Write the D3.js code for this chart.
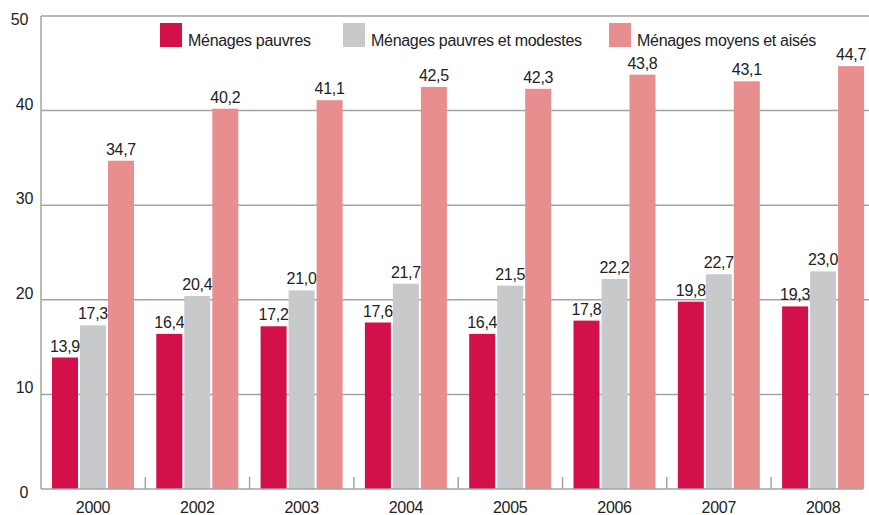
<!DOCTYPE html>
<html>
<head>
<meta charset="utf-8">
<script src="https://cdnjs.cloudflare.com/ajax/libs/d3/7.8.5/d3.min.js"></script>
<style>
  body { margin: 0; background: #fff; }
  svg text { font-family: "Liberation Sans", Arial, sans-serif; fill: #222; letter-spacing: -0.3px; }
</style>
</head>
<body>
<div id="chart"></div>
<script>
// data
var years   = ["2000", "2002", "2003", "2004", "2005", "2006", "2007", "2008"];
var series  = ["Ménages pauvres", "Ménages pauvres et modestes", "Ménages moyens et aisés"];
var pauvres = [13.9, 16.4, 17.2, 17.6, 16.4, 17.8, 19.8, 19.3];
var modestes = [17.3, 20.4, 21.0, 21.7, 21.5, 22.2, 22.7, 23.0];
var aises   = [34.7, 40.2, 41.1, 42.5, 42.3, 43.8, 43.1, 44.7];
var yTicks  = [0, 10, 20, 30, 40, 50];

var colors = ["#d3104a", "#c8c9cb", "#e88e8e"];
var values = [pauvres, modestes, aises];

var W = 869, H = 515;
var plotLeft = 41, plotBottom = 489, plotTop = 16;

var svg = d3.select("#chart").append("svg")
    .attr("width", W).attr("height", H);

var y = d3.scaleLinear().domain([0, 50]).range([plotBottom, plotTop]);
var x0 = d3.scaleBand().domain(years).range([plotLeft, plotLeft + 8 * 104.3]);
var x1 = d3.scaleBand().domain(series).range([11, 93]).paddingInner(2 / 28);

// gridlines
svg.selectAll("line.grid")
    .data(yTicks.filter(function(d) { return d > 0; }))
  .enter().append("line")
    .attr("class", "grid")
    .attr("x1", plotLeft).attr("x2", W)
    .attr("y1", function(d) { return y(d); })
    .attr("y2", function(d) { return y(d); })
    .attr("stroke", "#a3a3a3").attr("stroke-width", 1.5);

// y labels (top and bottom ones sit a bit inward, like the original)
svg.selectAll("text.ytick")
    .data(yTicks)
  .enter().append("text")
    .attr("class", "ytick")
    .attr("x", function(d) { return (d === 0 || d === 50) ? 28 : 33; })
    .attr("y", function(d) { return d === 0 ? 498 : Math.max(y(d) - 1, 25); })
    .attr("text-anchor", "end")
    .style("font-size", "16px")
    .text(function(d) { return d; });

// bars
var groups = svg.selectAll("g.year")
    .data(years)
  .enter().append("g")
    .attr("class", "year")
    .attr("transform", function(d) { return "translate(" + x0(d) + ",0)"; });

series.forEach(function(s, si) {
  groups.append("rect")
      .attr("x", x1(s))
      .attr("width", x1.bandwidth())
      .attr("y", function(d, i) { return y(values[si][i]); })
      .attr("height", function(d, i) { return plotBottom - y(values[si][i]); })
      .attr("fill", colors[si]);

  groups.append("text")
      .attr("x", x1(s) + x1.bandwidth() / 2)
      .attr("y", function(d, i) { return y(values[si][i]) - 6; })
      .attr("text-anchor", "middle")
      .style("font-size", "16px")
      .text(function(d, i) { return values[si][i].toFixed(1).replace(".", ","); });
});

// axes lines
svg.append("line")
    .attr("x1", plotLeft).attr("x2", plotLeft).attr("y1", plotTop).attr("y2", plotBottom)
    .attr("stroke", "#a3a3a3").attr("stroke-width", 1.5);
svg.append("line")
    .attr("x1", plotLeft).attr("x2", 863).attr("y1", plotBottom).attr("y2", plotBottom)
    .attr("stroke", "#a3a3a3").attr("stroke-width", 1.5);

// category ticks between groups
svg.selectAll("line.xtick")
    .data(years.slice(1))
  .enter().append("line")
    .attr("class", "xtick")
    .attr("x1", function(d) { return x0(d); })
    .attr("x2", function(d) { return x0(d); })
    .attr("y1", plotBottom - 12).attr("y2", plotBottom)
    .attr("stroke", "#a3a3a3").attr("stroke-width", 1.5);

svg.selectAll("text.xlab")
    .data(years)
  .enter().append("text")
    .attr("class", "xlab")
    .attr("x", function(d) { return x0(d) + 52; })
    .attr("y", 513)
    .attr("text-anchor", "middle")
    .style("font-size", "16px")
    .text(function(d) { return d; });

// legend
var legX = [160, 343, 609];
var leg = svg.selectAll("g.leg")
    .data(series)
  .enter().append("g")
    .attr("class", "leg")
    .attr("transform", function(d, i) { return "translate(" + legX[i] + ",23)"; });
leg.append("rect")
    .attr("width", 22).attr("height", 24)
    .attr("fill", function(d, i) { return colors[i]; });
leg.append("text")
    .attr("x", 28).attr("y", 23)
    .style("font-size", "16px")
    .text(function(d) { return d; });
</script>
</body>
</html>
